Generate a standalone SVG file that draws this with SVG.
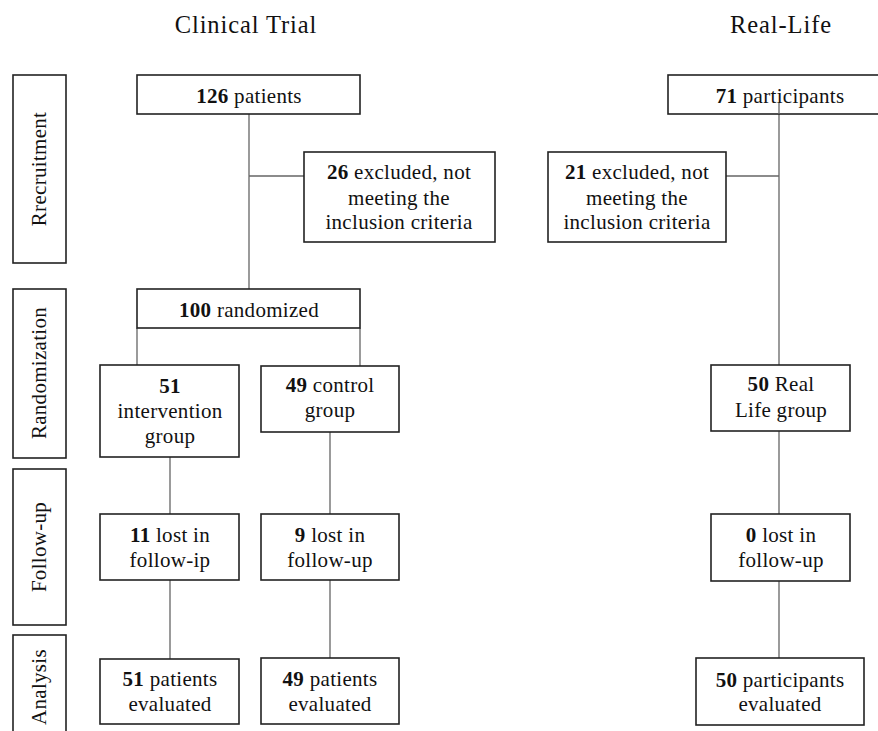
<svg xmlns="http://www.w3.org/2000/svg" width="878" height="731" viewBox="0 0 878 731">
<style>
.box{fill:#fff;stroke:#222;stroke-width:1.6}
.t{font-family:"Liberation Serif","Times New Roman",serif;font-size:21px;letter-spacing:0.3px;fill:#111;text-anchor:middle}
.b{font-weight:bold}
.title{font-family:"Liberation Serif","Times New Roman",serif;font-size:24.5px;letter-spacing:0.9px;fill:#111;text-anchor:middle}
.ln{stroke:#666;stroke-width:1.3;fill:none}
</style>
<rect width="878" height="731" fill="#fff"/>
<text class="title" x="246" y="33">Clinical Trial</text>
<text class="title" x="781" y="33">Real-Life</text>

<g id="connectors">
<path class="ln" d="M249 114V289M249 176H304M137 328V365M360 328V366M170 457V514M330 432V514M170 580V659M330 580V658"/>
<path class="ln" d="M779 103V365M726 176H779M779 431V514M779 581V658"/>
</g>

<g id="stage-recruitment"><rect class="box" x="13" y="75" width="53" height="188"/><text class="t" transform="translate(46,169) rotate(-90)">Rrecruitment</text></g>
<g id="stage-randomization"><rect class="box" x="13" y="289" width="53" height="169"/><text class="t" transform="translate(46,373) rotate(-90)">Randomization</text></g>
<g id="stage-followup"><rect class="box" x="13" y="469" width="53" height="156"/><text class="t" transform="translate(46,547) rotate(-90)">Follow-up</text></g>
<g id="stage-analysis"><rect class="box" x="13" y="635" width="53" height="110"/><text class="t" transform="translate(46,687) rotate(-90)">Analysis</text></g>

<g id="n126"><rect class="box" x="137" y="75" width="223" height="39"/><text class="t" x="249" y="103"><tspan class="b">126</tspan> patients</text></g>
<g id="n26"><rect class="box" x="304" y="152" width="191" height="90"/><text class="t" x="399" y="179"><tspan class="b">26</tspan> excluded, not</text><text class="t" x="399" y="205">meeting the</text><text class="t" x="399" y="229">inclusion criteria</text></g>
<g id="n100"><rect class="box" x="137" y="289" width="223" height="39"/><text class="t" x="249" y="317"><tspan class="b">100</tspan> randomized</text></g>
<g id="n51i"><rect class="box" x="100" y="365" width="139" height="92"/><text class="t b" x="170" y="393">51</text><text class="t" x="170" y="418">intervention</text><text class="t" x="170" y="443">group</text></g>
<g id="n49c"><rect class="box" x="261" y="366" width="138" height="66"/><text class="t" x="330" y="392"><tspan class="b">49</tspan> control</text><text class="t" x="330" y="417">group</text></g>
<g id="n11"><rect class="box" x="100" y="514" width="139" height="66"/><text class="t" x="170" y="542"><tspan class="b">11</tspan> lost in</text><text class="t" x="170" y="567">follow-ip</text></g>
<g id="n9"><rect class="box" x="261" y="514" width="138" height="66"/><text class="t" x="330" y="542"><tspan class="b">9</tspan> lost in</text><text class="t" x="330" y="567">follow-up</text></g>
<g id="n51e"><rect class="box" x="100" y="659" width="139" height="65"/><text class="t" x="170" y="686"><tspan class="b">51</tspan> patients</text><text class="t" x="170" y="711">evaluated</text></g>
<g id="n49e"><rect class="box" x="261" y="658" width="138" height="66"/><text class="t" x="330" y="686"><tspan class="b">49</tspan> patients</text><text class="t" x="330" y="711">evaluated</text></g>

<g id="n71"><rect class="box" x="668" y="75" width="220" height="39"/><text class="t" x="780" y="103"><tspan class="b">71</tspan> participants</text></g>
<g id="n21"><rect class="box" x="548" y="152" width="178" height="90"/><text class="t" x="637" y="179"><tspan class="b">21</tspan> excluded, not</text><text class="t" x="637" y="205">meeting the</text><text class="t" x="637" y="229">inclusion criteria</text></g>
<g id="n50r"><rect class="box" x="711" y="365" width="139" height="66"/><text class="t" x="781" y="391"><tspan class="b">50</tspan> Real</text><text class="t" x="781" y="417">Life group</text></g>
<g id="n0"><rect class="box" x="711" y="514" width="139" height="67"/><text class="t" x="781" y="542"><tspan class="b">0</tspan> lost in</text><text class="t" x="781" y="567">follow-up</text></g>
<g id="n50e"><rect class="box" x="696" y="658" width="168" height="67"/><text class="t" x="780" y="687"><tspan class="b">50</tspan> participants</text><text class="t" x="780" y="711">evaluated</text></g>
<path class="ln" d="M779 103V114"/>
</svg>
